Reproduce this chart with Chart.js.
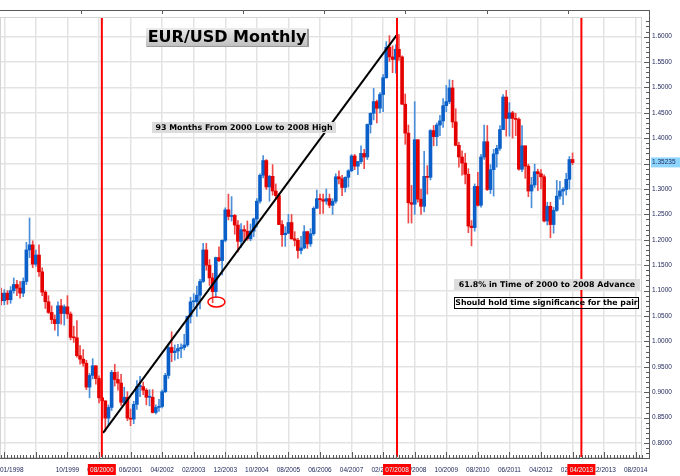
<!DOCTYPE html>
<html>
<head>
<meta charset="utf-8">
<script src="https://cdn.jsdelivr.net/npm/chart.js@4.4.0/dist/chart.umd.min.js"></script>
<style>
html, body { margin: 0; padding: 0; background: #fff; }
</style>
</head>
<body>
<canvas id="myChart" width="680" height="476"></canvas>
<script>
// monthly EUR/USD candles, first candle = 01/1998
const opens = [
  1.095,1.080,1.095,1.082,1.100,1.112,1.105,1.095,1.118,1.180,1.190,1.152,
  1.170,1.137,1.097,1.078,1.057,1.043,1.035,1.070,1.055,1.068,1.054,1.008,
  1.007,0.972,0.965,0.957,0.910,0.933,0.952,0.927,0.889,0.883,0.849,0.870,
  0.939,0.925,0.918,0.880,0.890,0.849,0.847,0.876,0.911,0.911,0.904,0.890,
  0.890,0.860,0.870,0.872,0.901,0.933,0.988,0.978,0.981,0.986,0.988,0.993,
  1.049,1.078,1.078,1.091,1.118,1.180,1.150,1.125,1.098,1.165,1.159,1.199,
  1.259,1.246,1.248,1.229,1.197,1.220,1.217,1.202,1.217,1.241,1.276,1.327,
  1.356,1.304,1.325,1.296,1.287,1.230,1.210,1.213,1.234,1.202,1.199,1.179,
  1.184,1.216,1.192,1.212,1.262,1.281,1.279,1.276,1.281,1.268,1.276,1.324,
  1.320,1.303,1.323,1.336,1.365,1.345,1.354,1.370,1.363,1.427,1.449,1.472,
  1.459,1.486,1.519,1.579,1.560,1.555,1.575,1.560,1.467,1.410,1.273,1.270,
  1.397,1.280,1.266,1.325,1.323,1.415,1.403,1.426,1.434,1.464,1.472,1.499,
  1.432,1.386,1.363,1.351,1.329,1.227,1.224,1.305,1.268,1.363,1.393,1.299,
  1.338,1.369,1.380,1.417,1.481,1.439,1.450,1.439,1.437,1.339,1.385,1.345,
  1.296,1.308,1.334,1.330,1.324,1.237,1.266,1.230,1.258,1.286,1.296,1.299,
  1.319,1.358
];
const highs = [
  1.105,1.102,1.100,1.108,1.125,1.120,1.118,1.125,1.195,1.243,1.198,1.180,
  1.190,1.145,1.100,1.090,1.070,1.052,1.078,1.083,1.072,1.090,1.058,1.030,
  1.041,0.992,0.984,0.963,0.937,0.966,0.952,0.932,0.903,0.883,0.875,0.943,
  0.955,0.940,0.935,0.910,0.901,0.867,0.882,0.923,0.931,0.920,0.907,0.905,
  0.905,0.875,0.886,0.904,0.937,0.995,1.019,0.993,0.994,0.995,1.014,1.050,
  1.087,1.094,1.109,1.122,1.193,1.193,1.161,1.134,1.166,1.186,1.200,1.263,
  1.290,1.285,1.250,1.238,1.232,1.228,1.237,1.231,1.243,1.281,1.330,1.366,
  1.358,1.327,1.348,1.310,1.291,1.238,1.226,1.250,1.250,1.216,1.203,1.207,
  1.228,1.217,1.222,1.265,1.298,1.290,1.290,1.300,1.290,1.281,1.330,1.336,
  1.327,1.324,1.338,1.368,1.368,1.354,1.385,1.378,1.428,1.450,1.498,1.475,
  1.490,1.525,1.590,1.602,1.582,1.584,1.604,1.562,1.487,1.426,1.307,1.472,
  1.397,1.300,1.374,1.346,1.417,1.425,1.430,1.445,1.478,1.504,1.515,1.514,
  1.458,1.392,1.375,1.370,1.340,1.238,1.310,1.333,1.368,1.426,1.425,1.348,
  1.378,1.386,1.425,1.486,1.494,1.470,1.453,1.449,1.440,1.425,1.385,1.349,
  1.323,1.349,1.339,1.338,1.328,1.274,1.274,1.264,1.317,1.315,1.303,1.331,
  1.364,1.371
];
const lows = [
  1.072,1.072,1.073,1.075,1.095,1.090,1.085,1.088,1.112,1.165,1.145,1.148,
  1.128,1.090,1.065,1.055,1.035,1.022,1.011,1.034,1.032,1.045,1.003,0.998,
  0.969,0.955,0.951,0.905,0.889,0.926,0.916,0.879,0.845,0.823,0.836,0.864,
  0.912,0.904,0.874,0.875,0.844,0.834,0.838,0.866,0.891,0.895,0.875,0.873,
  0.859,0.857,0.862,0.869,0.899,0.927,0.960,0.963,0.966,0.968,0.983,0.990,
  1.036,1.067,1.049,1.064,1.116,1.140,1.110,1.076,1.086,1.157,1.131,1.196,
  1.239,1.237,1.211,1.176,1.185,1.196,1.199,1.198,1.206,1.225,1.272,1.322,
  1.299,1.276,1.288,1.280,1.230,1.187,1.187,1.212,1.201,1.188,1.164,1.172,
  1.182,1.183,1.187,1.209,1.262,1.251,1.252,1.270,1.263,1.250,1.272,1.310,
  1.287,1.294,1.304,1.334,1.338,1.328,1.350,1.340,1.358,1.410,1.436,1.430,
  1.450,1.452,1.518,1.551,1.529,1.528,1.553,1.466,1.388,1.233,1.233,1.250,
  1.274,1.250,1.255,1.290,1.318,1.385,1.385,1.405,1.421,1.452,1.468,1.421,
  1.385,1.343,1.327,1.310,1.214,1.188,1.217,1.266,1.264,1.358,1.297,1.291,
  1.286,1.343,1.376,1.417,1.404,1.404,1.400,1.405,1.337,1.334,1.321,1.285,
  1.263,1.303,1.297,1.300,1.235,1.229,1.204,1.213,1.256,1.280,1.269,1.288,
  1.300,1.348
];
const closes = [
  1.080,1.095,1.082,1.100,1.112,1.105,1.095,1.118,1.180,1.190,1.152,1.170,
  1.137,1.097,1.078,1.057,1.043,1.035,1.070,1.055,1.068,1.054,1.008,1.007,
  0.972,0.965,0.957,0.910,0.933,0.952,0.927,0.889,0.883,0.849,0.870,0.939,
  0.925,0.918,0.880,0.890,0.849,0.847,0.876,0.911,0.911,0.904,0.890,0.890,
  0.860,0.870,0.872,0.901,0.933,0.988,0.978,0.981,0.986,0.988,0.993,1.049,
  1.078,1.078,1.091,1.118,1.180,1.150,1.125,1.098,1.165,1.159,1.199,1.259,
  1.246,1.248,1.229,1.197,1.220,1.217,1.202,1.217,1.241,1.276,1.327,1.356,
  1.304,1.325,1.296,1.287,1.230,1.210,1.213,1.234,1.202,1.199,1.179,1.184,
  1.216,1.192,1.212,1.262,1.281,1.279,1.276,1.281,1.268,1.276,1.324,1.320,
  1.303,1.323,1.336,1.365,1.345,1.354,1.370,1.363,1.427,1.449,1.472,1.459,
  1.486,1.519,1.579,1.560,1.555,1.575,1.560,1.467,1.410,1.273,1.270,1.397,
  1.280,1.266,1.325,1.323,1.415,1.403,1.426,1.434,1.464,1.472,1.499,1.432,
  1.386,1.363,1.351,1.329,1.227,1.224,1.305,1.268,1.363,1.393,1.299,1.338,
  1.369,1.380,1.417,1.481,1.439,1.450,1.439,1.437,1.339,1.385,1.345,1.296,
  1.308,1.334,1.330,1.324,1.237,1.266,1.230,1.258,1.286,1.296,1.299,1.319,
  1.358,1.352
];

// axis labels (x ticks every 10 months starting at month index 1)
const xTickLabels = ['01/1998', '', '10/1999', '08/2000', '06/2001', '04/2002', '02/2003',
  '12/2003', '10/2004', '08/2005', '06/2006', '04/2007', '02/2008', '12/2008', '10/2009',
  '08/2010', '06/2011', '04/2012', '02/2013', '12/2013', '08/2014'];
const yTicks = [0.80, 0.85, 0.90, 0.95, 1.00, 1.05, 1.10, 1.15, 1.20, 1.25, 1.30,
  1.35, 1.40, 1.45, 1.50, 1.55, 1.60];

// annotations (month index, price)
const markerMonths = [31.9, 125.4, 183.8];
const markerLabels = ['08/2000', '07/2008', '04/2013'];
const trendLine = [[32.3, 0.820], [125.3, 1.603]];
const circleAt = [68.2, 1.0776];
const lastPrice = 1.35235;

const upBody = '#0b5fc9', downBody = '#e50000';
const upWick = '#4a8ed9', downWick = '#ef4a4a';
const isUp = closes.map((c, i) => c >= opens[i]);

const yMin = 0.77244, yMax = 1.63858;

const overlay = {
  id: 'overlay',
  afterDatasetsDraw(chart) {
    const { ctx, scales: { x, y } } = chart;
    ctx.save();
    // red circle
    ctx.strokeStyle = '#ff0000';
    ctx.lineWidth = 1.5;
    ctx.beginPath();
    ctx.ellipse(x.getPixelForValue(circleAt[0]), y.getPixelForValue(circleAt[1]), 8.5, 5, 0, 0, Math.PI * 2);
    ctx.stroke();

    // title box
    let g = ctx.createLinearGradient(0, 28, 0, 47);
    g.addColorStop(0, '#ececec');
    g.addColorStop(1, '#bdbdbd');
    ctx.fillStyle = g;
    ctx.fillRect(146, 28, 163, 19);
    ctx.fillStyle = '#9a9a9a';
    ctx.fillRect(307, 29, 2, 18);
    ctx.fillRect(147, 46, 162, 1);
    ctx.fillStyle = '#000';
    ctx.font = 'bold 16px "DejaVu Sans"';
    ctx.textAlign = 'center';
    ctx.textBaseline = 'middle';
    ctx.fillText('EUR/USD Monthly', 227, 38);

    ctx.font = 'bold 7.9px "DejaVu Sans"';
    ctx.fillStyle = '#dcdcdc';
    ctx.fillRect(152, 122, 184, 11);
    ctx.fillStyle = '#000';
    ctx.fillText('93 Months From 2000 Low to 2008 High', 244, 127.5);

    ctx.fillStyle = '#dcdcdc';
    ctx.fillRect(454, 279, 186, 11);
    ctx.fillStyle = '#000';
    ctx.fillText('61.8% in Time of 2000 to 2008 Advance', 547, 284.5);

    ctx.strokeStyle = '#000';
    ctx.lineWidth = 1;
    ctx.strokeRect(454.5, 297.5, 184, 11);
    ctx.font = 'bold 7.8px "DejaVu Sans"';
    ctx.fillText('Should hold time significance for the pair', 546.5, 303);
    ctx.restore();
  },
  afterDraw(chart) {
    const { ctx, chartArea: a, scales: { x, y } } = chart;
    ctx.save();
    ctx.strokeStyle = '#d4d4d4';
    ctx.lineWidth = 1;
    ctx.strokeRect(a.left + 0.5, a.top + 0.5, a.right - a.left - 1, a.bottom - a.top);

    // frame lines
    ctx.strokeStyle = '#5a5a5a';
    ctx.beginPath();
    ctx.moveTo(0, 10.5); ctx.lineTo(649.5, 10.5);
    ctx.moveTo(649.5, 10); ctx.lineTo(649.5, 459);
    ctx.moveTo(0, 458.5); ctx.lineTo(650, 458.5);
    for (let k = 81; k < 649; k += 81.1) {
      ctx.moveTo(Math.round(k) + 0.5, 10); ctx.lineTo(Math.round(k) + 0.5, 14);
    }
    // y minor / major ticks
    for (let v = 0.78; v <= 1.635; v += 0.01) {
      const py = Math.round(y.getPixelForValue(v)) + 0.5;
      const major = Math.abs(v * 20 - Math.round(v * 20)) < 0.01;
      ctx.moveTo(major ? 644 : 646, py); ctx.lineTo(649.5, py);
    }
    // x minor / major ticks
    for (let m = 0; m <= 203; m++) {
      const px = Math.round(x.getPixelForValue(m)) + 0.5;
      const major = (m - 1) % 10 === 0;
      ctx.moveTo(px, 458); ctx.lineTo(px, major ? 452 : 455);
    }
    ctx.stroke();

    // y labels
    ctx.fillStyle = '#1b2458';
    ctx.font = '6.5px "Liberation Sans"';
    ctx.textAlign = 'left';
    ctx.textBaseline = 'middle';
    yTicks.forEach(v => ctx.fillText(v.toFixed(4), 652, y.getPixelForValue(v)));

    // x labels
    ctx.textAlign = 'center';
    xTickLabels.forEach((t, i) => {
      if (!t) return;
      const px = x.getPixelForValue(1 + i * 10);
      if (i === 0) { ctx.textAlign = 'left'; ctx.fillText(t, 0, 470); ctx.textAlign = 'center'; }
      else ctx.fillText(t, px, 470);
    });

    // highlighted marker labels
    markerMonths.forEach((m, i) => {
      const px = x.getPixelForValue(m);
      ctx.fillStyle = '#ff0000';
      ctx.fillRect(px - 14, 464, 28, 11);
      ctx.fillStyle = '#d8ffff';
      ctx.fillText(markerLabels[i], px, 470);
    });

    // last price tag
    const py = y.getPixelForValue(lastPrice);
    ctx.fillStyle = '#8fd6ff';
    ctx.fillRect(651, py - 5, 29, 10);
    ctx.fillStyle = '#1b2458';
    ctx.textAlign = 'left';
    ctx.fillText(lastPrice.toFixed(5), 652, py);
    ctx.restore();
  }
};

const ctx = document.getElementById('myChart').getContext('2d');
new Chart(ctx, {
  data: {
    datasets: [
      {
        type: 'bar',
        data: highs.map((h, i) => ({ x: i, y: [lows[i], h] })),
        backgroundColor: isUp.map(u => u ? upWick : downWick),
        barThickness: 1,
        grouped: false,
        order: 5
      },
      {
        type: 'bar',
        data: opens.map((o, i) => ({ x: i, y: [o, closes[i]] })),
        backgroundColor: isUp.map(u => u ? upBody : downBody),
        barThickness: 3,
        minBarLength: 1,
        grouped: false,
        order: 4
      },
      {
        type: 'line',
        data: trendLine.map(p => ({ x: p[0], y: p[1] })),
        borderColor: '#000',
        borderWidth: 2,
        pointRadius: 0,
        order: 2
      },
      ...markerMonths.map(m => ({
        type: 'line',
        data: [{ x: m, y: yMin - 0.1 }, { x: m, y: yMax + 0.1 }],
        borderColor: '#ff0000',
        borderWidth: 2,
        pointRadius: 0,
        order: 1
      }))
    ]
  },
  options: {
    responsive: false,
    animation: false,
    events: [],
    layout: { padding: { top: 17, left: 0, right: 0, bottom: 0 } },
    plugins: { legend: { display: false }, tooltip: { enabled: false } },
    scales: {
      x: {
        type: 'linear',
        offset: false,
        min: -0.359,
        max: 203.0,
        afterBuildTicks: s => { s.ticks = xTickLabels.map((t, i) => ({ value: 1 + i * 10 })); },
        afterFit: s => { s.height = 19; },
        ticks: { display: false },
        grid: { color: '#e3e3e3', lineWidth: 1.5, drawTicks: false, offset: false },
        border: { display: false }
      },
      y: {
        position: 'right',
        min: yMin,
        max: yMax,
        afterBuildTicks: s => { s.ticks = yTicks.map(v => ({ value: v })); },
        afterFit: s => { s.width = 38; },
        ticks: { display: false },
        grid: { color: '#e3e3e3', lineWidth: 1.5, drawTicks: false },
        border: { display: false }
      }
    }
  },
  plugins: [overlay]
});
</script>
</body>
</html>
